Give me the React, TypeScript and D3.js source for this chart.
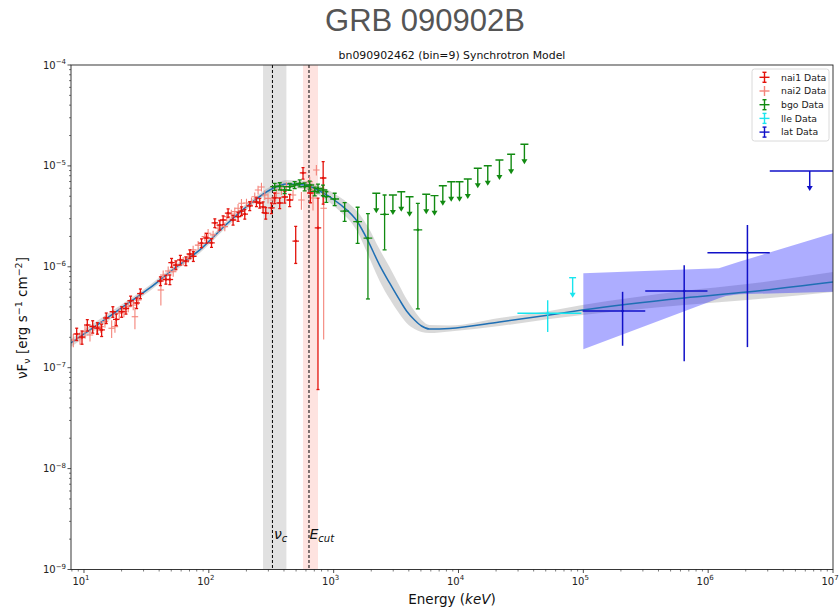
import React from 'react';
import * as d3 from 'd3';

// ---------- data (energy in keV, flux νFν in erg s^-1 cm^-2) ----------
const nai1Energy = [8.74, 9.64, 10.63, 11.74, 12.82, 13.85, 15.08, 17.03, 18.13, 20.03, 21.68, 23.64, 26.41, 28.31, 40.93, 45.29, 48.75, 50.3, 54.45, 59.16, 65.46, 70.47, 75.16, 87.42, 95.85, 105.1, 111.7, 122.5, 130.2, 142.7, 156.4, 171.6, 182.6, 194.1, 212.8, 240.7, 255.9, 271.9, 285.8, 317.4, 337.3, 369.8, 405.5, 444.6, 496.6, 568.2, 651.0, 748.9, 824.1];
const nai1Flux = [2.16e-7, 2.01e-7, 2.65e-7, 2.56e-7, 2.47e-7, 2.37e-7, 3.11e-7, 3.59e-7, 3.01e-7, 3.59e-7, 3.86e-7, 4.61e-7, 4.38e-7, 5.43e-7, 7.23e-7, 7.48e-7, 7.48e-7, 1.10e-6, 1.04e-6, 1.17e-6, 1.14e-6, 1.34e-6, 1.27e-6, 1.72e-6, 1.93e-6, 1.73e-6, 2.72e-6, 2.59e-6, 2.91e-6, 3.41e-6, 2.91e-6, 3.14e-6, 3.57e-6, 3.33e-6, 4.01e-6, 4.39e-6, 4.29e-6, 3.92e-6, 3.41e-6, 3.83e-6, 4.81e-6, 4.29e-6, 4.92e-6, 4.59e-6, 1.80e-6, 8.51e-6, 5.39e-6, 2.43e-6, 7.59e-6];
const nai1RelErr = [0.14, 0.15, 0.13, 0.14, 0.13, 0.14, 0.12, 0.12, 0.13, 0.12, 0.12, 0.11, 0.12, 0.11, 0.10, 0.10, 0.11, 0.10, 0.10, 0.11, 0.10, 0.10, 0.11, 0.10, 0.11, 0.10, 0.10, 0.11, 0.10, 0.10, 0.11, 0.10, 0.10, 0.11, 0.10, 0.10, 0.11, 0.12, 0.13, 0.12, 0.12, 0.12, 0.13, 0.14, 0.40, 0.13, 0.20, 0.975, 0.45];

const nai2Energy = [8.21, 9.29, 10.19, 11.17, 12.64, 13.6, 14.72, 16.66, 17.7, 19.16, 20.89, 22.62, 24.8, 25.59, 27.2, 41.3, 43.09, 47.26, 51.82, 55.15, 62.31, 68.31, 74.89, 82.11, 92.9, 98.72, 108.2, 118.7, 134.3, 139.3, 151.4, 161.4, 171.6, 182.6, 200.3, 219.6, 233.3, 248.0, 264.0, 280.5, 298.1, 326.9, 347.9, 381.6, 418.4, 472.6, 551.7, 642.7, 683.2, 727.1, 831.8];
const nai2Flux = [1.88e-7, 1.96e-7, 2.28e-7, 2.11e-7, 2.46e-7, 2.55e-7, 2.86e-7, 2.46e-7, 2.55e-7, 3.46e-7, 3.59e-7, 4.02e-7, 4.18e-7, 3.20e-7, 4.69e-7, 5.89e-7, 8.29e-7, 9.09e-7, 8.94e-7, 1.04e-6, 1.14e-6, 1.22e-6, 1.47e-6, 1.64e-6, 1.99e-6, 2.15e-6, 2.07e-6, 2.41e-6, 2.50e-6, 3.14e-6, 3.34e-6, 3.52e-6, 3.80e-6, 4.26e-6, 4.29e-6, 4.42e-6, 4.95e-6, 5.77e-6, 6.18e-6, 5.15e-6, 4.77e-6, 4.59e-6, 5.35e-6, 5.77e-6, 6.22e-6, 5.15e-6, 4.59e-6, 6.97e-6, 4.81e-6, 9.11e-6, 3.80e-6];
const nai2RelErr = [0.15, 0.14, 0.15, 0.14, 0.14, 0.13, 0.13, 0.2, 0.13, 0.12, 0.12, 0.12, 0.11, 0.25, 0.11, 0.3, 0.11, 0.11, 0.11, 0.1, 0.1, 0.1, 0.1, 0.1, 0.1, 0.1, 0.1, 0.1, 0.1, 0.1, 0.1, 0.1, 0.1, 0.1, 0.1, 0.1, 0.1, 0.1, 0.1, 0.11, 0.11, 0.11, 0.11, 0.11, 0.11, 0.12, 0.2, 0.12, 0.25, 0.12, 0.95];

const bgoEnergy = [337, 370, 405, 445, 487, 535, 586, 643, 705, 749, 821, 874, 1019, 1225, 1556, 1882, 2559, 4726];
const bgoFlux = [6.22e-6, 6.30e-6, 5.77e-6, 6.22e-6, 6.47e-6, 6.72e-6, 6.22e-6, 6.47e-6, 5.60e-6, 6.0e-6, 5.77e-6, 4.95e-6, 4.70e-6, 3.57e-6, 2.80e-6, 1.92e-6, 3.31e-6, 2.32e-6];
const bgoRelErr = [0.08, 0.08, 0.08, 0.08, 0.08, 0.08, 0.09, 0.09, 0.1, 0.1, 0.12, 0.12, 0.14, 0.21, 0.39, 0.75, 0.555, 0.835];
const bgoUlEnergy = [2196, 2982, 3480, 4055, 5516, 6427, 7489, 8743, 10186, 11870, 14270, 17160, 21280, 26410, 33730];
const bgoUlFlux = [5.35e-6, 5.15e-6, 5.55e-6, 4.95e-6, 5.23e-6, 5.07e-6, 6.36e-6, 6.97e-6, 6.97e-6, 7.41e-6, 9.47e-6, 1.005e-5, 1.144e-5, 1.303e-5, 1.637e-5];

const lleEnergy = [51820];
const lleELo = [29650];
const lleEHi = [96380];
const lleFlux = [3.46e-7];
const lleErr = [1.2e-7];
const lleUlEnergy = [82120];
const lleUlELo = [77000];
const lleUlEHi = [87500];
const lleUlFlux = [7.8e-7];

const latEnergy = [2.063e5, 6.427e5, 2.063e6];
const latELo = [9.87e4, 3.133e5, 9.87e5];
const latEHi = [3.133e5, 9.87e5, 3.115e6];
const latFlux = [3.65e-7, 5.76e-7, 1.38e-6];
const latErr = [2.0e-7, 4.6e-7, 1.22e-6];
const latUlEnergy = [6.51e6];
const latUlELo = [3.115e6];
const latUlEHi = [1.36e7];
const latUlFlux = [8.91e-6];

// synchrotron model and its credible band
const modelEnergy = [7.87, 13.4, 23.3, 33.7, 53.5, 84.7, 134, 213, 308, 421, 586, 773, 1117, 1556, 1871, 2333, 2805, 3373, 3837, 4446, 5058, 5861, 8472, 21280, 53460, 98200, 642700, 2.05e6, 1e7];
const modelFlux = [1.76e-7, 2.77e-7, 4.48e-7, 6.17e-7, 9.73e-7, 1.47e-6, 2.54e-6, 4.19e-6, 5.77e-6, 6.62e-6, 6.47e-6, 5.64e-6, 4.19e-6, 2.78e-6, 1.84e-6, 1.04e-6, 6.91e-7, 4.69e-7, 3.65e-7, 2.97e-7, 2.59e-7, 2.42e-7, 2.45e-7, 2.84e-7, 3.33e-7, 3.73e-7, 4.91e-7, 5.62e-7, 7.07e-7];
const modelLow = [1.61e-7, 2.53e-7, 4.18e-7, 5.76e-7, 9.08e-7, 1.373e-6, 2.37e-6, 3.91e-6, 5.39e-6, 6.05e-6, 5.91e-6, 5.03e-6, 3.57e-6, 2.21e-6, 1.34e-6, 7.24e-7, 4.81e-7, 3.41e-7, 2.78e-7, 2.42e-7, 2.26e-7, 2.21e-7, 2.29e-7, 2.59e-7, 3.04e-7, 3.33e-7, 4.19e-7, 4.68e-7, 5.63e-7];
const modelHigh = [1.93e-7, 3.03e-7, 4.80e-7, 6.61e-7, 1.042e-6, 1.574e-6, 2.72e-6, 4.49e-6, 6.18e-6, 7.25e-6, 7.08e-6, 6.32e-6, 4.91e-6, 3.49e-6, 2.53e-6, 1.49e-6, 9.93e-7, 6.45e-7, 4.80e-7, 3.65e-7, 2.97e-7, 2.65e-7, 2.62e-7, 3.11e-7, 3.65e-7, 4.18e-7, 5.76e-7, 6.74e-7, 8.88e-7];

// LAT butterfly
const latBandEnergy = [1e5, 1.22e6, 1.386e6, 1.77e6, 1e7];
const latBandHigh = [8.62e-7, 9.66e-7, 1.02e-6, 1.12e-6, 2.15e-6];
const latBandLow = [1.52e-7, 4.87e-7, 5.14e-7, 5.34e-7, 5.66e-7];

// νc and Ecut markers
const nuCBand = [271.9, 418.4];
const nuC = 323.3;
const eCutBand = [568.2, 748.9];
const eCut = 634.5;

const xMajorTicks = [1e1, 1e2, 1e3, 1e4, 1e5, 1e6, 1e7];
const xMajorExp = ['1', '2', '3', '4', '5', '6', '7'];
const yMajorTicks = [1e-9, 1e-8, 1e-7, 1e-6, 1e-5, 1e-4];
const yMajorExp = ['−9', '−8', '−7', '−6', '−5', '−4'];

const legendLabels = ['nai1 Data', 'nai2 Data', 'bgo Data', 'lle Data', 'lat Data'];

// bin half-widths (dex)
const naiBinHalf = 0.026;
const bgoBinHalf = 0.035;
const bgoUlBinHalf = 0.032;

const FONT = 'DejaVu Sans';
const L = 71, R = 833, T = 65, B = 569.5;

const C_NAI1 = '#e3120b';
const C_NAI2 = '#f4847a';
const C_BGO = '#118a11';
const C_LLE = '#19e5ee';
const C_LAT = '#1010c8';

export default function App() {
  const x = d3.scaleLog().domain([7.87, 1e7]).range([L, R]);
  const y = d3.scaleLog().domain([1e-9, 1e-4]).range([B, T]);

  const xMinor: number[] = [];
  for (let k = 0; k <= 6; k++) for (let m = 2; m <= 9; m++) { const v = m * Math.pow(10, k); if (v >= 7.87 && v <= 1e7) xMinor.push(v); }
  const yMinor: number[] = [];
  for (let k = -9; k <= -5; k++) for (let m = 2; m <= 9; m++) yMinor.push(m * Math.pow(10, k));

  const area = d3.area<number>().x((d, i) => x(modelEnergy[i])).y0((d, i) => y(modelLow[i])).y1((d, i) => y(modelHigh[i])).curve(d3.curveMonotoneX);
  const line = d3.line<number>().x((d, i) => x(modelEnergy[i])).y((d, i) => y(modelFlux[i])).curve(d3.curveMonotoneX);
  const latArea = d3.area<number>().x((d, i) => x(latBandEnergy[i])).y0((d, i) => y(latBandLow[i])).y1((d, i) => y(latBandHigh[i]));

  const safeY = (v: number) => (v <= 1e-9 ? B + 5 : y(v));

  const errBar = (key: string, e: number, eLo: number, eHi: number, f: number, sig: number, color: string, lw: number, cap: number, dot: boolean) => {
    const cx = x(e), cy = y(f);
    const yt = y(f + sig), yb = safeY(f - sig);
    return (
      <g key={key} stroke={color} strokeWidth={lw} fill={color}>
        <line x1={x(eLo)} x2={x(eHi)} y1={cy} y2={cy} />
        <line x1={cx} x2={cx} y1={yt} y2={yb} />
        {cap > 0 && <line x1={cx - cap} x2={cx + cap} y1={yt} y2={yt} />}
        {cap > 0 && <line x1={cx - cap} x2={cx + cap} y1={yb} y2={yb} />}
        {dot && <circle cx={cx} cy={cy} r={1.3} stroke="none" />}
      </g>
    );
  };

  const upperLim = (key: string, e: number, eLo: number, eHi: number, f: number, color: string, lw: number) => {
    const cx = x(e), cy = y(f);
    const len = 20;
    return (
      <g key={key} stroke={color} strokeWidth={lw} fill={color}>
        <line x1={x(eLo)} x2={x(eHi)} y1={cy} y2={cy} />
        <line x1={cx} x2={cx} y1={cy} y2={cy + len - 3} />
        <path d={`M${cx - 3},${cy + len - 5} L${cx + 3},${cy + len - 5} L${cx},${cy + len} Z`} stroke="none" />
      </g>
    );
  };

  const dex = (v: number, h: number) => v * Math.pow(10, h);

  const legendColors = [C_NAI1, C_NAI2, C_BGO, C_LLE, C_LAT];

  return (
    <svg width={840} height={610} style={{ position: 'absolute', left: 0, top: 0, background: '#fff' }} fontFamily={FONT}>
      <defs>
        <clipPath id="plotclip"><rect x={L} y={T} width={R - L} height={B - T} /></clipPath>
      </defs>
      <rect x={0} y={0} width={840} height={610} fill="#fff" />
      <text x={425} y={31} textAnchor="middle" fontSize={31} fill="#555" fontFamily="Liberation Sans">GRB 090902B</text>
      <text x={452} y={59} textAnchor="middle" fontSize={10.9} fill="#111">bn090902462 (bin=9) Synchrotron Model</text>

      <g clipPath="url(#plotclip)">
        <rect x={x(nuCBand[0])} y={T} width={x(nuCBand[1]) - x(nuCBand[0])} height={B - T} fill="grey" opacity={0.24} />
        <rect x={x(eCutBand[0])} y={T} width={x(eCutBand[1]) - x(eCutBand[0])} height={B - T} fill="salmon" opacity={0.22} />
        <line x1={x(nuC)} x2={x(nuC)} y1={T} y2={B} stroke="#000" strokeWidth={1} strokeDasharray="3,2" />
        <line x1={x(eCut)} x2={x(eCut)} y1={T} y2={B} stroke="#000" strokeWidth={1} strokeDasharray="3,2" />

        <path d={area(modelEnergy) || ''} fill="grey" opacity={0.3} />
        <path d={latArea(latBandEnergy) || ''} fill="blue" opacity={0.32} />
        <path d={line(modelEnergy) || ''} fill="none" stroke="#1f6fb4" strokeWidth={1.5} />

        {nai2Energy.map((e, i) => errBar('n2' + i, e, dex(e, -naiBinHalf), dex(e, naiBinHalf), nai2Flux[i], nai2Flux[i] * nai2RelErr[i], C_NAI2, 1.1, 0, false))}
        {nai1Energy.map((e, i) => errBar('n1' + i, e, dex(e, -naiBinHalf), dex(e, naiBinHalf), nai1Flux[i], nai1Flux[i] * nai1RelErr[i], C_NAI1, 1.3, 1.5, true))}
        {bgoEnergy.map((e, i) => errBar('b' + i, e, dex(e, -bgoBinHalf), dex(e, bgoBinHalf), bgoFlux[i], bgoFlux[i] * bgoRelErr[i], C_BGO, 1.3, 2, true))}
        {bgoUlEnergy.map((e, i) => upperLim('bu' + i, e, dex(e, -bgoUlBinHalf), dex(e, bgoUlBinHalf), bgoUlFlux[i], C_BGO, 1.4))}
        {lleEnergy.map((e, i) => errBar('l' + i, e, lleELo[i], lleEHi[i], lleFlux[i], lleErr[i], C_LLE, 1.4, 0, true))}
        {lleUlEnergy.map((e, i) => upperLim('lu' + i, e, lleUlELo[i], lleUlEHi[i], lleUlFlux[i], C_LLE, 1.4))}
        {latEnergy.map((e, i) => errBar('t' + i, e, latELo[i], latEHi[i], latFlux[i], latErr[i], C_LAT, 1.5, 0, true))}
        {latUlEnergy.map((e, i) => upperLim('tu' + i, e, latUlELo[i], latUlEHi[i], latUlFlux[i], C_LAT, 1.5))}
      </g>

      {/* frame */}
      <rect x={L} y={T} width={R - L} height={B - T} fill="none" stroke="#222" strokeWidth={0.9} />

      {/* x ticks */}
      {xMinor.map((v, i) => <line key={'xm' + i} x1={x(v)} x2={x(v)} y1={B} y2={B + 2} stroke="#222" strokeWidth={0.6} />)}
      {xMajorTicks.map((v, i) => (
        <g key={'xM' + i}>
          <line x1={x(v)} x2={x(v)} y1={B} y2={B + 3.5} stroke="#222" strokeWidth={0.8} />
          <text x={x(v) - 3} y={B + 15} textAnchor="middle" fontSize={10} fill="#222">10<tspan fontSize={7} dy={-4.5}>{xMajorExp[i]}</tspan></text>
        </g>
      ))}
      {/* y ticks */}
      {yMinor.map((v, i) => <line key={'ym' + i} x1={L - 2} x2={L} y1={y(v)} y2={y(v)} stroke="#222" strokeWidth={0.6} />)}
      {yMajorTicks.map((v, i) => (
        <g key={'yM' + i}>
          <line x1={L - 3.5} x2={L} y1={y(v)} y2={y(v)} stroke="#222" strokeWidth={0.8} />
          <text x={L - 5} y={y(v) + 3.5} textAnchor="end" fontSize={10} fill="#222">10<tspan fontSize={7} dy={-4.5}>{yMajorExp[i]}</tspan></text>
        </g>
      ))}

      {/* marker labels */}
      <text x={x(nuC) + 1.5} y={539} fontSize={14} fontStyle="italic" fill="#111">ν<tspan fontSize={10} dy={2.5}>c</tspan></text>
      <text x={x(eCut) + 0.5} y={539} fontSize={14} fontStyle="italic" fill="#111">E<tspan fontSize={10} dy={2.5}>cut</tspan></text>

      {/* axis labels */}
      <text x={452} y={604} textAnchor="middle" fontSize={13.5} fill="#111">Energy (<tspan fontStyle="italic">keV</tspan>)</text>
      <text transform="translate(27,318) rotate(-90)" textAnchor="middle" fontSize={13.5} fill="#111">νF<tspan fontSize={9.5} dy={3}>ν</tspan><tspan dy={-3}> [erg s</tspan><tspan fontSize={9.5} dy={-5}>−1</tspan><tspan dy={5}> cm</tspan><tspan fontSize={9.5} dy={-5}>−2</tspan><tspan dy={5}>]</tspan></text>

      {/* legend */}
      <rect x={752} y={69} width={77} height={72} rx={2.5} fill="#fff" fillOpacity={0.85} stroke="#d0d0d0" strokeWidth={0.8} />
      {legendLabels.map((lab, i) => {
        const ly = 77.3 + i * 13.7;
        const cx = 764.5;
        const col = legendColors[i];
        const caps = i !== 1;
        return (
          <g key={'lg' + i}>
            <g stroke={col} strokeWidth={1.4}>
              <line x1={cx - 5} x2={cx + 5} y1={ly} y2={ly} />
              <line x1={cx} x2={cx} y1={ly - 5} y2={ly + 5} />
              {caps && <line x1={cx - 2} x2={cx + 2} y1={ly - 5} y2={ly - 5} />}
              {caps && <line x1={cx - 2} x2={cx + 2} y1={ly + 5} y2={ly + 5} />}
            </g>
            <text x={781} y={ly + 3.3} fontSize={9.3} fill="#222">{lab}</text>
          </g>
        );
      })}
    </svg>
  );
}
